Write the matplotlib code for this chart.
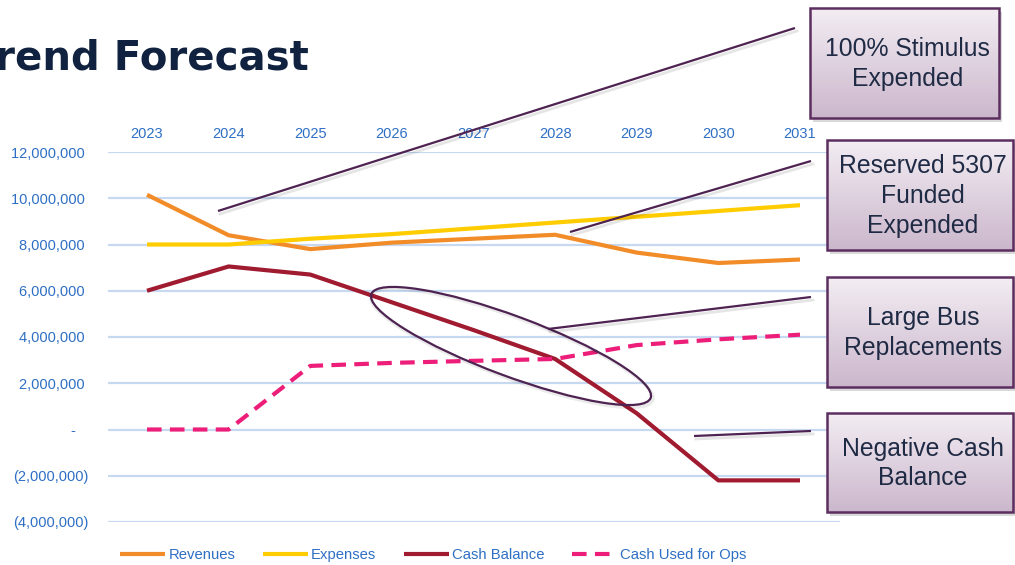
import matplotlib
matplotlib.use("Agg")
import matplotlib.pyplot as plt
import numpy as np
from matplotlib.patches import Ellipse, Rectangle

# ---------------- data ----------------
years = [2023, 2024, 2025, 2026, 2027, 2028, 2029, 2030, 2031]
revenues = [10150000, 8400000, 7800000, 8080000, 8250000, 8420000, 7650000, 7200000, 7350000]
expenses = [8000000, 8000000, 8250000, 8450000, 8700000, 8950000, 9200000, 9450000, 9700000]
cash_balance = [6000000, 7050000, 6700000, 5500000, 4300000, 3050000, 700000, -2200000, -2200000]
cash_used_ops = [0, 0, 2750000, 2880000, 2970000, 3050000, 3650000, 3900000, 4100000]
y_ticks = [-4000000, -2000000, 0, 2000000, 4000000, 6000000, 8000000, 10000000, 12000000]
y_tick_labels = ['(4,000,000)', '(2,000,000)', '-   ', '2,000,000 ', '4,000,000 ', '6,000,000 ',
                 '8,000,000 ', '10,000,000 ', '12,000,000 ']
series_names = ['Revenues', 'Expenses', 'Cash Balance', 'Cash Used for Ops']
title_text = 'Trend Forecast'
callouts = [
    ('100% Stimulus\nExpended', (810, 8, 999, 118)),
    ('Reserved 5307\nFunded\nExpended', (827, 140, 1013, 250)),
    ('Large Bus\nReplacements', (827, 277, 1013, 387)),
    ('Negative Cash\nBalance', (827, 413, 1013, 512)),
]
pointer_lines = [((218, 211), (795, 28)), ((570, 232), (811, 161)),
                 ((548, 329), (811, 297)), ((694, 436), (811, 431))]

# ---------------- style ----------------
W, H = 1015, 565
FONT = 'Liberation Sans'
TICK_C = '#2E6FC4'
GRID_C = '#C6D9F1'
C_REV = '#F28C28'
C_EXP = '#FFCC00'
C_CASH = '#A01A30'
C_OPS = '#EC1E79'
PURPLE = '#4E2352'

fig = plt.figure(figsize=(W / 100, H / 100), dpi=100)
fig.patch.set_facecolor('white')

def px2fig(x0, y0, x1, y1):
    return [x0 / W, 1 - y1 / H, (x1 - x0) / W, (y1 - y0) / H]

ax = fig.add_axes(px2fig(108, 152, 840, 522))
ax.set_xlim(2023 - 39 / 81.6, 2031 + 40 / 81.6)
ax.set_ylim(-4000000, 12000000)
for s in ax.spines.values():
    s.set_visible(False)
ax.set_yticks(y_ticks)
ax.set_yticklabels(y_tick_labels)
ax.set_xticks(years)
ax.set_xticklabels([str(y) for y in years])
ax.xaxis.tick_top()
ax.tick_params(axis='both', length=0, labelcolor=TICK_C, labelsize=10.5)
ax.tick_params(axis='x', pad=8)
ax.tick_params(axis='y', pad=14)
for lab in ax.get_xticklabels() + ax.get_yticklabels():
    lab.set_fontfamily(FONT)
ax.yaxis.grid(True, color=GRID_C, lw=1.6)
ax.xaxis.grid(False)
ax.set_axisbelow(True)

ax.plot(years, revenues, color=C_REV, lw=3, solid_capstyle='butt', label=series_names[0], zorder=3)
ax.plot(years, expenses, color=C_EXP, lw=3, solid_capstyle='butt', label=series_names[1], zorder=3)
ax.plot(years, cash_balance, color=C_CASH, lw=3, solid_capstyle='butt', label=series_names[2], zorder=3)
ax.plot(years, cash_used_ops, color=C_OPS, lw=3, ls=(0, (3.5, 2)), label=series_names[3], zorder=3)

leg = fig.legend(loc='center left', bbox_to_anchor=(120 / W, (H - 555) / H), ncol=4,
                 frameon=False, borderpad=0, borderaxespad=0, handlelength=3.05,
                 handletextpad=0.2, columnspacing=1.85,
                 prop={'family': FONT, 'size': 10.7})
for t in leg.get_texts():
    t.set_color(TICK_C)

# ---------------- overlay (pixel coordinates) ----------------
ov = fig.add_axes([0, 0, 1, 1])
ov.set_xlim(0, W)
ov.set_ylim(H, 0)
ov.axis('off')
ov.patch.set_alpha(0)

# title: cropped at the left edge as in the slide ("T" falls outside)
renderer = fig.canvas.get_renderer()
tfs = 28.5
probe = fig.text(0, 0, title_text[1:], fontsize=tfs, fontweight='bold', family='DejaVu Sans')
w_rest = probe.get_window_extent(renderer).width
probe.remove()
tfs = tfs * 314.0 / w_rest
probe = fig.text(0, 0, title_text, fontsize=tfs, fontweight='bold', family='DejaVu Sans')
w_full = probe.get_window_extent(renderer).width
probe.remove()
fig.text((312 - w_full - 3) / W, 1 - 69 / H, title_text, ha='left', va='baseline',
         fontsize=tfs, fontweight='bold', color='#10223F', family='DejaVu Sans')

# pointer lines with light shadow
for (p0, p1) in pointer_lines:
    ov.plot([p0[0] + 2, p1[0] + 2], [p0[1] + 3, p1[1] + 3], color='#000000', alpha=0.10, lw=2)
    ov.plot([p0[0], p1[0]], [p0[1], p1[1]], color=PURPLE, lw=1.6, solid_capstyle='butt')

# ellipse around the cash drop
ov.add_patch(Ellipse((512, 348), 300, 60, angle=20.4, fill=False, ec='#000000',
                     alpha=0.08, lw=2.5))
ov.add_patch(Ellipse((511, 346), 298, 60, angle=20.4, fill=False, ec=PURPLE, lw=1.6))

# gradient callout boxes
grad = np.linspace(0, 1, 256).reshape(-1, 1)
top = np.array([243, 237, 243]) / 255
bot = np.array([203, 183, 204]) / 255
img = (top + (bot - top) * grad[..., None]).reshape(256, 1, 3)
for text, (x0, y0, x1, y1) in callouts:
    ov.add_patch(Rectangle((x0 + 3, y0 + 4), x1 - x0, y1 - y0, fc='#000000', alpha=0.15, ec='none'))
    ov.imshow(img, extent=(x0, x1, y1, y0), aspect='auto', zorder=2, interpolation='bilinear')
    ov.add_patch(Rectangle((x0, y0), x1 - x0, y1 - y0, fill=False, ec='#5C2D5F', lw=1.8, zorder=3))
    ov.text((x0 + x1) / 2 + 3, (y0 + y1) / 2 + 1, text, ha='center', va='center',
            fontsize=17.8, color='#1F2A44', family=FONT, linespacing=1.3, zorder=4)
ov.set_xlim(0, W)
ov.set_ylim(H, 0)

fig.savefig('out.png', dpi=100, facecolor='white')
